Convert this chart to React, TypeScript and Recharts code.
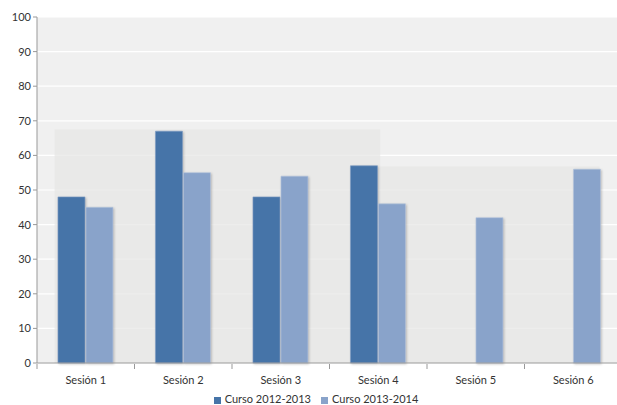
import { BarChart, Bar, XAxis, YAxis, CartesianGrid, Legend, ReferenceArea } from 'recharts'

const sesiones = ['Sesión 1', 'Sesión 2', 'Sesión 3', 'Sesión 4', 'Sesión 5', 'Sesión 6']
const curso1213 = [48, 67, 48, 57, null, null]
const curso1314 = [45, 55, 54, 46, 42, 56]
const yTicks = [0, 10, 20, 30, 40, 50, 60, 70, 80, 90, 100]
const bandTicks = [0, 1, 2, 3, 4, 5, 6]

const data = sesiones.map((s, i) => ({
  sesion: s,
  pos: i + 0.5,
  c1: curso1213[i],
  c2: curso1314[i],
}))

const font = 'Lato, "Open Sans", sans-serif'
const barShadow = { filter: 'drop-shadow(1.5px 1px 1px rgba(0,0,0,0.22))' }

export default function App() {
  return (
    <div style={{ position: 'absolute', left: 0, top: 0, width: 617, height: 405, overflow: 'hidden', background: '#fff' }}>
      <BarChart
        width={622}
        height={405}
        data={data}
        margin={{ top: 17, right: 0, left: 0, bottom: 10 }}
        barCategoryGap="21.5%"
        barGap={1}
        style={{ fontFamily: font }}
      >
        <CartesianGrid fill="#F0F0F0" stroke="#FFFFFF" strokeWidth={1.2} vertical={false} />
        <XAxis
          xAxisId="bg"
          dataKey="pos"
          type="number"
          domain={[0, 6]}
          allowDataOverflow
          ticks={bandTicks}
          interval={0}
          height={18}
          axisLine={false}
          tickLine={{ stroke: '#999' }}
          tickSize={5}
          tickFormatter={() => ''}
        />
        <ReferenceArea xAxisId="bg" x1={0.18} x2={3.52} y1={0} y2={67.5} fill="#E6E6E4" fillOpacity={0.7} stroke="none" ifOverflow="visible" />
        <ReferenceArea xAxisId="bg" x1={3.52} x2={5.77} y1={0} y2={56.8} fill="#E6E6E4" fillOpacity={0.7} stroke="none" ifOverflow="visible" />
        <XAxis
          dataKey="sesion"
          height={1}
          tick={{ fill: '#333', fontSize: 11 }}
          tickLine={false}
          axisLine={{ stroke: '#999' }}
          tickMargin={7}
        />
        <YAxis
          width={37}
          domain={[0, 100]}
          ticks={yTicks}
          interval={0}
          tick={{ fill: '#333', fontSize: 11 }}
          tickLine={{ stroke: '#999' }}
          axisLine={{ stroke: '#999' }}
          tickSize={4}
        />
        <Legend
          iconType="square"
          iconSize={7}
          wrapperStyle={{ fontSize: 11, color: '#333', bottom: 0, left: 10 }}
          formatter={(v) => <span style={{ color: '#333' }}>{v}</span>}
        />
        <Bar xAxisId={0} dataKey="c1" name="Curso 2012-2013" fill="#4674A8" stroke="#7E9CC4" strokeWidth={0.6} style={barShadow} isAnimationActive={false} />
        <Bar xAxisId={0} dataKey="c2" name="Curso 2013-2014" fill="#89A3CA" stroke="#B5C6DE" strokeWidth={0.6} style={barShadow} isAnimationActive={false} />
      </BarChart>
    </div>
  )
}
